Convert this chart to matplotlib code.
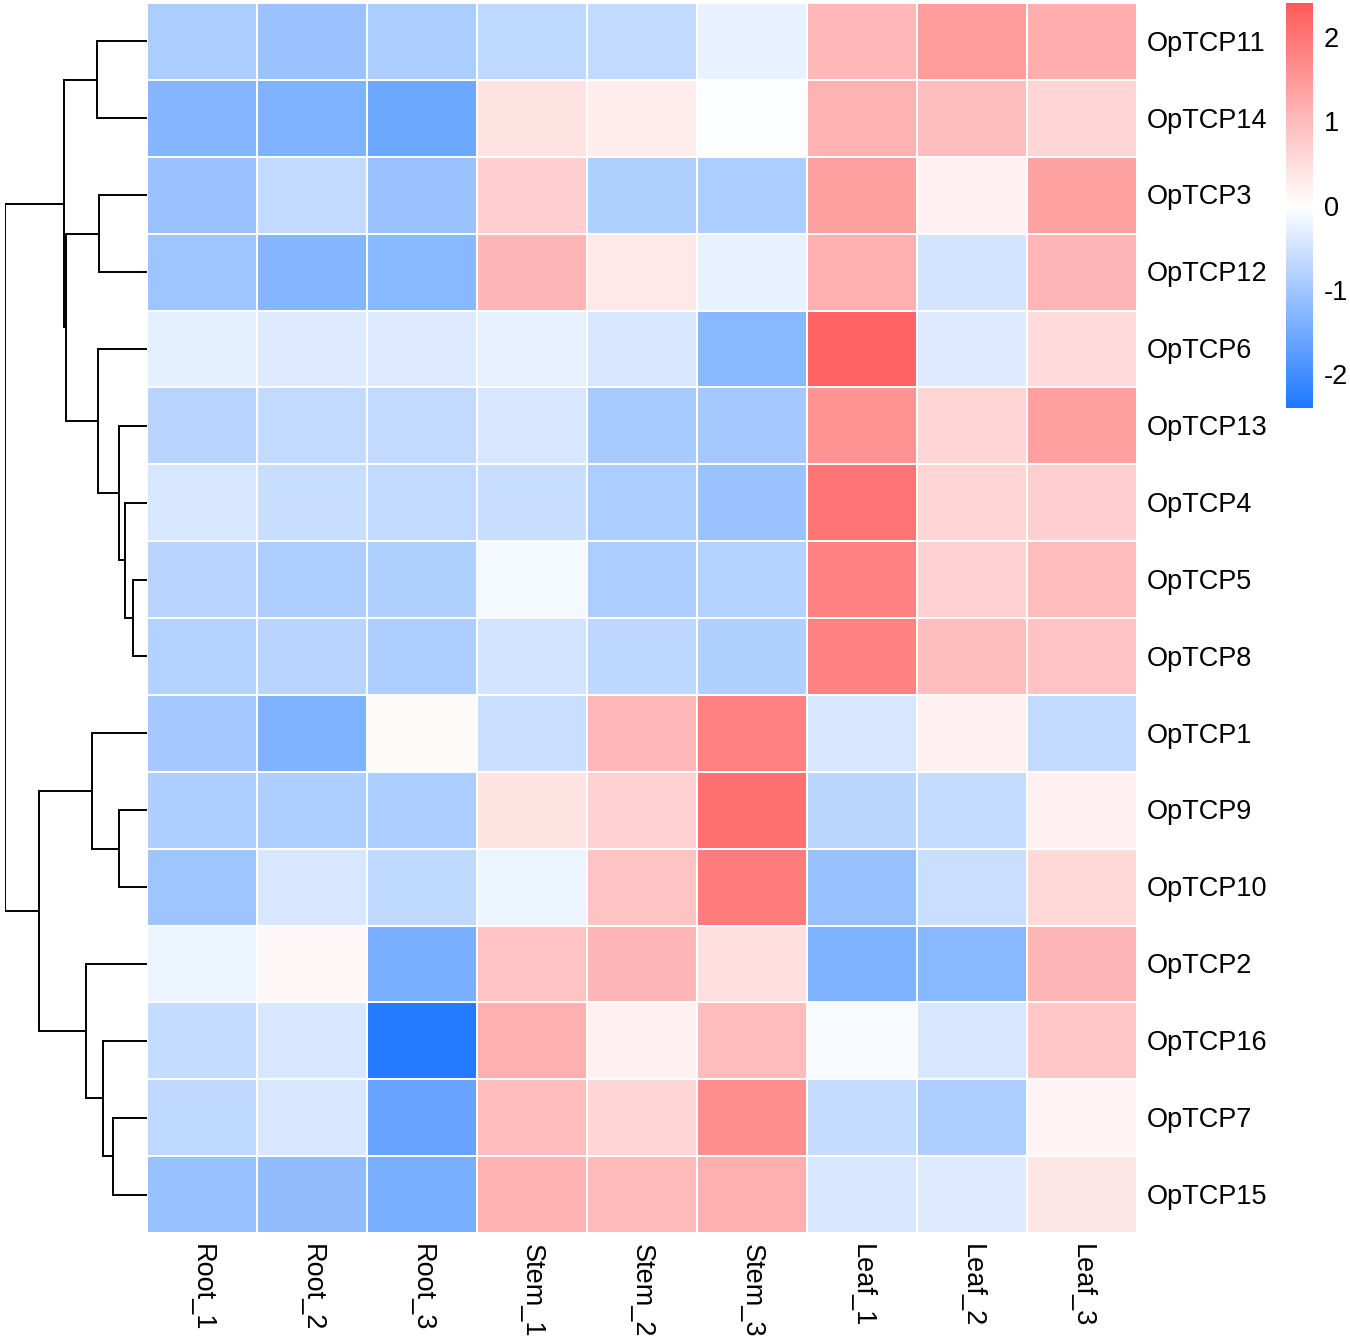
import numpy as np
import matplotlib
matplotlib.use("Agg")
import matplotlib.pyplot as plt
from matplotlib.colors import LinearSegmentedColormap, Normalize
from matplotlib.cm import ScalarMappable

plt.rcParams['font.family'] = ['Liberation Sans', 'DejaVu Sans']
plt.rcParams['axes.unicode_minus'] = False

# sample columns
samples = ["Root_1", "Root_2", "Root_3", "Stem_1", "Stem_2", "Stem_3", "Leaf_1", "Leaf_2", "Leaf_3"]

# genes in the clustered (display) order
genes = ["OpTCP11", "OpTCP14", "OpTCP3", "OpTCP12", "OpTCP6", "OpTCP13", "OpTCP4", "OpTCP5",
         "OpTCP8", "OpTCP1", "OpTCP9", "OpTCP10", "OpTCP2", "OpTCP16", "OpTCP7", "OpTCP15"]

# row-scaled expression
expr = [
    [-0.90, -1.08, -0.90, -0.68, -0.65, -0.25, 1.03, 1.43, 1.19],   # OpTCP11
    [-1.29, -1.35, -1.55, 0.41, 0.28, -0.02, 1.12, 0.95, 0.60],     # OpTCP14
    [-1.08, -0.65, -1.08, 0.70, -0.83, -0.90, 1.38, 0.20, 1.34],    # OpTCP3
    [-1.03, -1.29, -1.27, 1.05, 0.33, -0.25, 1.13, -0.47, 1.05],    # OpTCP12
    [-0.30, -0.36, -0.36, -0.25, -0.43, -1.27, 2.25, -0.36, 0.52],  # OpTCP6
    [-0.75, -0.65, -0.65, -0.43, -0.93, -0.96, 1.57, 0.60, 1.37],   # OpTCP13
    [-0.43, -0.60, -0.65, -0.60, -0.90, -1.08, 1.99, 0.60, 0.70],   # OpTCP4
    [-0.75, -0.87, -0.83, -0.13, -0.90, -0.80, 1.82, 0.64, 0.96],   # OpTCP5
    [-0.80, -0.75, -0.87, -0.47, -0.70, -0.83, 1.82, 0.95, 0.87],   # OpTCP8
    [-0.96, -1.35, 0.07, -0.58, 1.03, 1.85, -0.42, 0.20, -0.65],    # OpTCP1
    [-0.87, -0.87, -0.90, 0.41, 0.68, 2.05, -0.73, -0.63, 0.20],    # OpTCP9
    [-1.03, -0.43, -0.67, -0.19, 0.87, 1.90, -1.10, -0.58, 0.57],   # OpTCP10
    [-0.19, 0.12, -1.42, 0.87, 1.05, 0.45, -1.35, -1.27, 1.05],     # OpTCP2
    [-0.63, -0.42, -2.34, 1.15, 0.19, 0.96, -0.09, -0.42, 0.81],    # OpTCP16
    [-0.68, -0.42, -1.61, 0.96, 0.60, 1.63, -0.63, -0.87, 0.15],    # OpTCP7
    [-1.10, -1.18, -1.42, 1.12, 1.00, 1.16, -0.42, -0.36, 0.36],    # OpTCP15
]

# row dendrogram: (merge height, left, right)
tree = (10.0,
        (5.80,
         (3.53, "OpTCP11", "OpTCP14"),
         (5.71,
          (3.37, "OpTCP3", "OpTCP12"),
          (3.46, "OpTCP6",
           (1.94, "OpTCP13",
            (1.52, "OpTCP4", (1.00, "OpTCP5", "OpTCP8")))))),
        (7.56,
         (3.88, "OpTCP1", (1.94, "OpTCP9", "OpTCP10")),
         (4.28, "OpTCP2", (3.11, "OpTCP16", (2.41, "OpTCP7", "OpTCP15")))))

cbar_ticks = [-2, -1, 0, 1, 2]

W, H = 1350, 1339
fig = plt.figure(figsize=(W / 100, H / 100), dpi=100)

def px_axes(x0, y0, x1, y1):
    return fig.add_axes([x0 / W, 1 - y1 / H, (x1 - x0) / W, (y1 - y0) / H])

cmap = LinearSegmentedColormap.from_list("bwr2", ["#1E78FF", "#FFFFFF", "#FF5A5A"], N=256)
norm = Normalize(vmin=-2.4, vmax=2.4)

# heatmap
ax = px_axes(147, 3, 1137, 1233)
data = np.array(expr)
nr, nc = data.shape
ax.pcolormesh(data, cmap=cmap, norm=norm, edgecolors="white", linewidth=1.4)
ax.set_xlim(0, nc)
ax.set_ylim(nr, 0)
ax.axis("off")

for i, g in enumerate(genes):
    ax.text(nc + 0.09, i + 0.53, g, ha="left", va="center", fontsize=19.5)
for j, s in enumerate(samples):
    ax.text(j + 0.5, nr + 0.14, s, ha="center", va="top", rotation=270, fontsize=19.5)

# dendrogram
dax = px_axes(4.5, 3, 147, 1233)
row_pos = {g: i + 0.5 for i, g in enumerate(genes)}

def draw(node):
    if isinstance(node, str):
        return 0.0, row_pos[node]
    h, left, right = node
    xl, yl = draw(left)
    xr, yr = draw(right)
    dax.plot([xl, h], [yl, yl], color="black", lw=1.4, solid_capstyle="butt")
    dax.plot([xr, h], [yr, yr], color="black", lw=1.4, solid_capstyle="butt")
    dax.plot([h, h], [yl, yr], color="black", lw=1.4, solid_capstyle="projecting")
    return h, (yl + yr) / 2

draw(tree)
dax.set_xlim(tree[0], 0)
dax.set_ylim(nr, 0)
dax.axis("off")

# colour legend
cax = px_axes(1286, 3, 1313, 408)
cb = fig.colorbar(ScalarMappable(norm=norm, cmap=cmap), cax=cax)
cb.outline.set_visible(False)
cb.set_ticks(cbar_ticks)
cb.set_ticklabels([str(t) for t in cbar_ticks])
cax.tick_params(length=0, labelsize=19.5, pad=8)

fig.savefig("out.png", dpi=100)
